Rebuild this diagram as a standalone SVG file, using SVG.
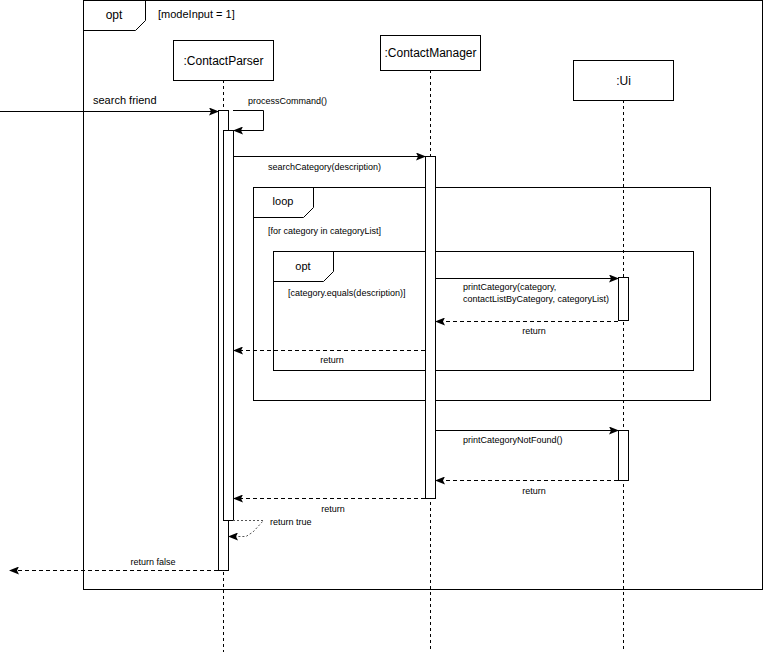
<svg xmlns="http://www.w3.org/2000/svg" width="764" height="652" viewBox="0 0 764 652">
<style>
text{font-family:"Liberation Sans",Arial,sans-serif;fill:#000}
.s{font-size:9px}.m{font-size:11px}.l{font-size:12px}
.b{fill:#fff;stroke:#000;stroke-width:1}
.f{fill:none;stroke:#000;stroke-width:1}
.ll{stroke:#000;stroke-dasharray:3,3;fill:none}
.msg{stroke:#000;fill:none;marker-end:url(#a)}
.ret{stroke:#000;fill:none;stroke-dasharray:4,3;marker-end:url(#a)}
</style>
<defs><marker id="a" markerWidth="10" markerHeight="8" refX="9" refY="4" orient="auto" markerUnits="userSpaceOnUse"><path d="M0,0 L10,4 L0,8 L2,4 z" fill="#000"/></marker></defs>
<rect width="764" height="652" fill="#fff"/>
<g id="frame-opt-outer"><rect class="f" x="83.5" y="0.5" width="679" height="589"/><path class="f" d="M83.5,30.5 H135.5 L145.5,20.5 V0.5"/><text class="l" x="114" y="19" text-anchor="middle">opt</text><text class="m" x="158" y="18">[modeInput = 1]</text></g>
<g id="contactparser"><line class="ll" x1="223.5" y1="80" x2="223.5" y2="652"/><rect class="b" x="173.5" y="40.5" width="100" height="40"/><text class="l" x="223.5" y="65" text-anchor="middle">:ContactParser</text></g>
<g id="contactmanager"><line class="ll" x1="430.5" y1="70" x2="430.5" y2="652"/><rect class="b" x="380.5" y="35.5" width="100" height="35"/><text class="l" x="430.5" y="57" text-anchor="middle">:ContactManager</text></g>
<g id="ui"><line class="ll" x1="623.5" y1="100" x2="623.5" y2="652"/><rect class="b" x="573.5" y="60.5" width="100" height="40"/><text class="l" x="623.5" y="85" text-anchor="middle">:Ui</text></g>
<g id="frame-loop"><rect class="f" x="253.5" y="187.5" width="457" height="213"/><path class="f" d="M253.5,217.5 H303.5 L313.5,207.5 V187.5"/><text class="m" x="283" y="205" text-anchor="middle">loop</text><text class="s" x="268" y="234">[for category in categoryList]</text></g>
<g id="frame-opt-inner"><rect class="f" x="273.5" y="251.5" width="420" height="119"/><path class="f" d="M273.5,281.5 H323.5 L333.5,271.5 V251.5"/><text class="m" x="303" y="270" text-anchor="middle">opt</text><text class="s" x="288" y="296">[category.equals(description)]</text></g>
<g id="activations">
<rect class="b" x="218.5" y="110.5" width="10" height="460"/>
<rect class="b" x="223.5" y="130.5" width="10" height="390"/>
<rect class="b" x="425.5" y="156.5" width="10" height="342"/>
<rect class="b" x="618.5" y="277.5" width="10" height="43"/>
<rect class="b" x="618.5" y="430.5" width="10" height="50"/>
</g>
<g id="connectors">
<line class="msg" x1="0" y1="111.5" x2="218" y2="111.5"/><text class="m" x="93" y="104">search friend</text>
<path class="msg" d="M233,110.5 H263.5 V130.5 H234"/><text class="s" x="248" y="104">processCommand()</text>
<line class="msg" x1="233" y1="156.5" x2="425" y2="156.5"/><text class="s" x="268" y="170">searchCategory(description)</text>
<line class="msg" x1="435" y1="278.5" x2="618" y2="278.5"/><text class="s" x="463" y="290">printCategory(category,</text><text class="s" x="463" y="302">contactListByCategory, categoryList)</text>
<line class="ret" x1="618" y1="321.5" x2="436" y2="321.5"/><text class="s" x="534" y="334" text-anchor="middle">return</text>
<line class="ret" x1="425" y1="350.5" x2="234" y2="350.5"/><text class="s" x="332" y="363" text-anchor="middle">return</text>
<line class="msg" x1="435" y1="430.5" x2="618" y2="430.5"/><text class="s" x="463" y="443">printCategoryNotFound()</text>
<line class="ret" x1="618" y1="480.5" x2="436" y2="480.5"/><text class="s" x="534" y="494" text-anchor="middle">return</text>
<line class="ret" x1="425" y1="498.5" x2="234" y2="498.5"/><text class="s" x="333" y="512" text-anchor="middle">return</text>
<path d="M233,520.5 H263.5 L253,532 L246,536.5 H229" fill="none" stroke="#555" stroke-dasharray="2,2" marker-end="url(#a)"/><text class="s" x="270" y="525">return true</text>
<line class="ret" x1="218" y1="570.5" x2="10" y2="570.5"/><text class="s" x="153" y="565" text-anchor="middle">return false</text>
</g>
</svg>
